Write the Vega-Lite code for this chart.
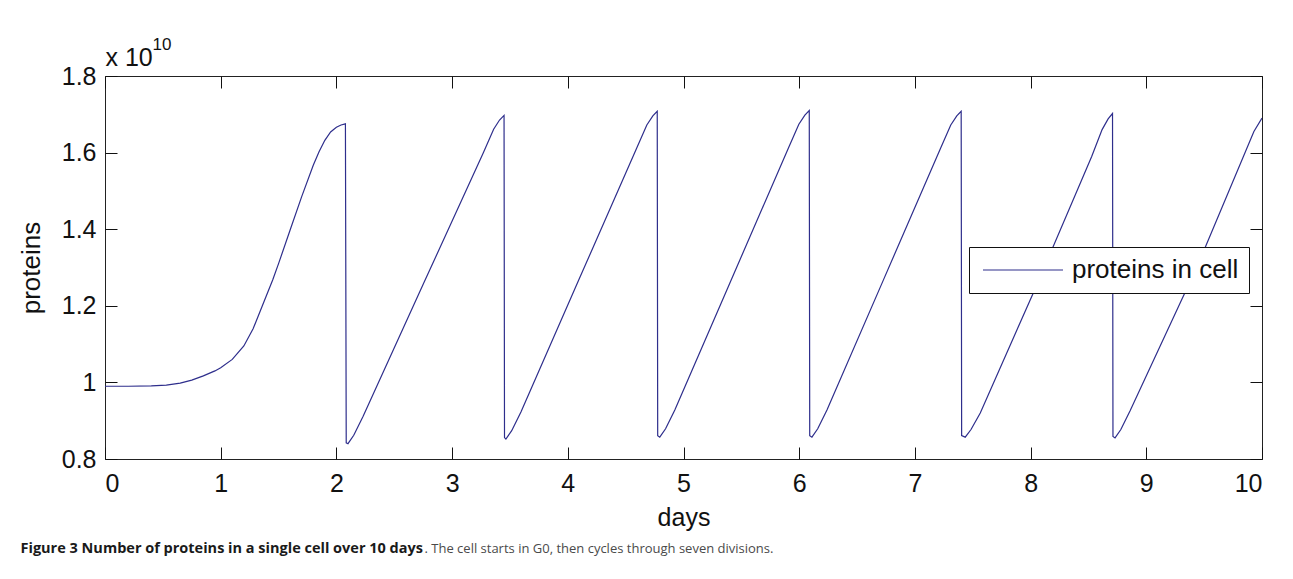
{
  "$schema": "https://vega.github.io/schema/vega-lite/v6.json",
  "width": 1157,
  "height": 383,
  "autosize": {"type": "none"},
  "padding": {"left": 105, "top": 76, "right": 31, "bottom": 120},
  "background": "white",
  "data": {"values": [
    {"day": 0, "proteins": 0.990e10},
    {"day": 0.2, "proteins": 0.990e10},
    {"day": 0.4, "proteins": 0.991e10},
    {"day": 0.53, "proteins": 0.993e10},
    {"day": 0.65, "proteins": 0.998e10},
    {"day": 0.75, "proteins": 1.006e10},
    {"day": 0.85, "proteins": 1.017e10},
    {"day": 0.95, "proteins": 1.030e10},
    {"day": 1.0, "proteins": 1.038e10},
    {"day": 1.1, "proteins": 1.060e10},
    {"day": 1.2, "proteins": 1.095e10},
    {"day": 1.28, "proteins": 1.140e10},
    {"day": 1.36, "proteins": 1.200e10},
    {"day": 1.45, "proteins": 1.268e10},
    {"day": 1.5, "proteins": 1.310e10},
    {"day": 1.6, "proteins": 1.398e10},
    {"day": 1.7, "proteins": 1.485e10},
    {"day": 1.8, "proteins": 1.567e10},
    {"day": 1.85, "proteins": 1.602e10},
    {"day": 1.9, "proteins": 1.632e10},
    {"day": 1.95, "proteins": 1.654e10},
    {"day": 2.0, "proteins": 1.666e10},
    {"day": 2.04, "proteins": 1.672e10},
    {"day": 2.078, "proteins": 1.675e10},
    {"day": 2.085, "proteins": 0.842e10},
    {"day": 2.10, "proteins": 0.840e10},
    {"day": 2.15, "proteins": 0.862e10},
    {"day": 2.23, "proteins": 0.911e10},
    {"day": 2.75, "proteins": 1.256e10},
    {"day": 3.269, "proteins": 1.599e10},
    {"day": 3.359, "proteins": 1.661e10},
    {"day": 3.41, "proteins": 1.685e10},
    {"day": 3.449, "proteins": 1.697e10},
    {"day": 3.453, "proteins": 0.856e10},
    {"day": 3.465, "proteins": 0.852e10},
    {"day": 3.515, "proteins": 0.874e10},
    {"day": 3.595, "proteins": 0.923e10},
    {"day": 4.1, "proteins": 1.271e10},
    {"day": 4.593, "proteins": 1.610e10},
    {"day": 4.683, "proteins": 1.672e10},
    {"day": 4.735, "proteins": 1.696e10},
    {"day": 4.773, "proteins": 1.708e10},
    {"day": 4.777, "proteins": 0.861e10},
    {"day": 4.795, "proteins": 0.857e10},
    {"day": 4.845, "proteins": 0.879e10},
    {"day": 4.925, "proteins": 0.928e10},
    {"day": 5.4, "proteins": 1.259e10},
    {"day": 5.907, "proteins": 1.612e10},
    {"day": 5.997, "proteins": 1.674e10},
    {"day": 6.049, "proteins": 1.698e10},
    {"day": 6.087, "proteins": 1.710e10},
    {"day": 6.091, "proteins": 0.861e10},
    {"day": 6.11, "proteins": 0.857e10},
    {"day": 6.16, "proteins": 0.879e10},
    {"day": 6.24, "proteins": 0.928e10},
    {"day": 6.73, "proteins": 1.269e10},
    {"day": 7.22, "proteins": 1.610e10},
    {"day": 7.31, "proteins": 1.672e10},
    {"day": 7.362, "proteins": 1.696e10},
    {"day": 7.40, "proteins": 1.708e10},
    {"day": 7.404, "proteins": 0.861e10},
    {"day": 7.435, "proteins": 0.857e10},
    {"day": 7.485, "proteins": 0.877e10},
    {"day": 7.565, "proteins": 0.920e10},
    {"day": 8.05, "proteins": 1.252e10},
    {"day": 8.528, "proteins": 1.590e10},
    {"day": 8.618, "proteins": 1.660e10},
    {"day": 8.67, "proteins": 1.688e10},
    {"day": 8.708, "proteins": 1.702e10},
    {"day": 8.712, "proteins": 0.859e10},
    {"day": 8.73, "proteins": 0.855e10},
    {"day": 8.78, "proteins": 0.877e10},
    {"day": 8.86, "proteins": 0.926e10},
    {"day": 9.45, "proteins": 1.310e10},
    {"day": 9.93, "proteins": 1.655e10},
    {"day": 10.0, "proteins": 1.690e10}
  ]},
  "layer": [
    {
      "mark": {"type": "line", "strokeWidth": 1.2, "clip": true},
      "encoding": {
        "x": {
          "field": "day", "type": "quantitative",
          "scale": {"domain": [0, 10], "nice": false, "zero": false},
          "axis": {
            "orient": "bottom", "values": [0,1,2,3,4,5,6,7,8,9,10],
            "tickSize": -12, "labelPadding": 24, "domain": false,
            "title": "days", "titleY": 66, "titleBaseline": "alphabetic"
          }
        },
        "y": {
          "field": "proteins", "type": "quantitative",
          "scale": {"domain": [0.8e10, 1.8e10], "nice": false, "zero": false},
          "axis": {
            "orient": "left",
            "values": [0.8e10, 1.0e10, 1.2e10, 1.4e10, 1.6e10, 1.8e10],
            "labelExpr": "format(datum.value / 1e10, '.1~f')",
            "tickSize": -12, "labelPadding": 21, "domain": false,
            "title": "proteins", "titleX": -66, "titleY": 191.5, "titleFontSize": 26,
            "titleAngle": -90, "titleAlign": "center", "titleBaseline": "alphabetic"
          }
        },
        "color": {
          "datum": "proteins in cell",
          "scale": {"range": ["#2e2e8c"]},
          "legend": {
            "orient": "none", "legendX": 864, "legendY": 171,
            "title": null, "symbolType": "M-0.9,0H7.1", "symbolSize": 400,
            "symbolStrokeWidth": 1.2, "labelFontSize": 26,
            "labelFont": "Liberation Sans", "labelColor": "#111",
            "strokeColor": "#111", "fillColor": "white", "padding": 10,
            "labelOffset": 67, "labelLimit": 0
          }
        }
      }
    },
    {
      "mark": {"type": "line", "strokeOpacity": 0},
      "encoding": {
        "x": {
          "field": "day", "type": "quantitative",
          "axis": {
            "orient": "top", "values": [0,1,2,3,4,5,6,7,8,9,10],
            "tickSize": -12, "labels": false, "domain": false,
            "title": "x 10", "titleX": 0, "titleY": -11,
            "titleAlign": "left", "titleBaseline": "alphabetic", "titleAnchor": null
          }
        },
        "y": {
          "field": "proteins", "type": "quantitative",
          "axis": {
            "orient": "right",
            "values": [0.8e10, 1.0e10, 1.2e10, 1.4e10, 1.6e10, 1.8e10],
            "tickSize": -12, "labels": false, "domain": false,
            "title": "10", "titleAngle": 0, "titleX": -1110, "titleY": -27,
            "titleAlign": "left", "titleBaseline": "alphabetic", "titleFontSize": 17
          }
        }
      }
    },
    {
      "mark": {"type": "line", "strokeOpacity": 0},
      "encoding": {
        "x": {
          "field": "day", "type": "quantitative",
          "axis": {
            "orient": "bottom", "ticks": false, "labels": false, "domain": false,
            "title": "Figure 3 Number of proteins in a single cell over 10 days",
            "titleX": -85, "titleY": 93, "titleAlign": "left",
            "titleBaseline": "alphabetic", "titleFont": "Open Sans",
            "titleFontSize": 14.5, "titleFontWeight": "bold", "titleColor": "#1a1a1a"
          }
        },
        "y": {"field": "proteins", "type": "quantitative", "axis": null}
      }
    },
    {
      "mark": {"type": "line", "strokeOpacity": 0},
      "encoding": {
        "x": {
          "field": "day", "type": "quantitative",
          "axis": {
            "orient": "bottom", "ticks": false, "labels": false, "domain": false,
            "title": ". The cell starts in G0, then cycles through seven divisions.",
            "titleX": 319, "titleY": 93, "titleAlign": "left",
            "titleBaseline": "alphabetic", "titleFont": "Open Sans",
            "titleFontSize": 13, "titleFontWeight": "normal", "titleColor": "#4a4a4a"
          }
        },
        "y": {"field": "proteins", "type": "quantitative", "axis": null}
      }
    }
  ],
  "resolve": {"axis": {"x": "independent", "y": "independent"}},
  "config": {
    "view": {"stroke": "#222", "strokeWidth": 1},
    "axis": {
      "grid": false, "tickColor": "#111", "tickWidth": 1,
      "labelFont": "Liberation Sans", "labelFontSize": 25, "labelColor": "#111",
      "titleFont": "Liberation Sans", "titleFontSize": 25, "titleFontWeight": "normal",
      "titleColor": "#111"
    }
  }
}
